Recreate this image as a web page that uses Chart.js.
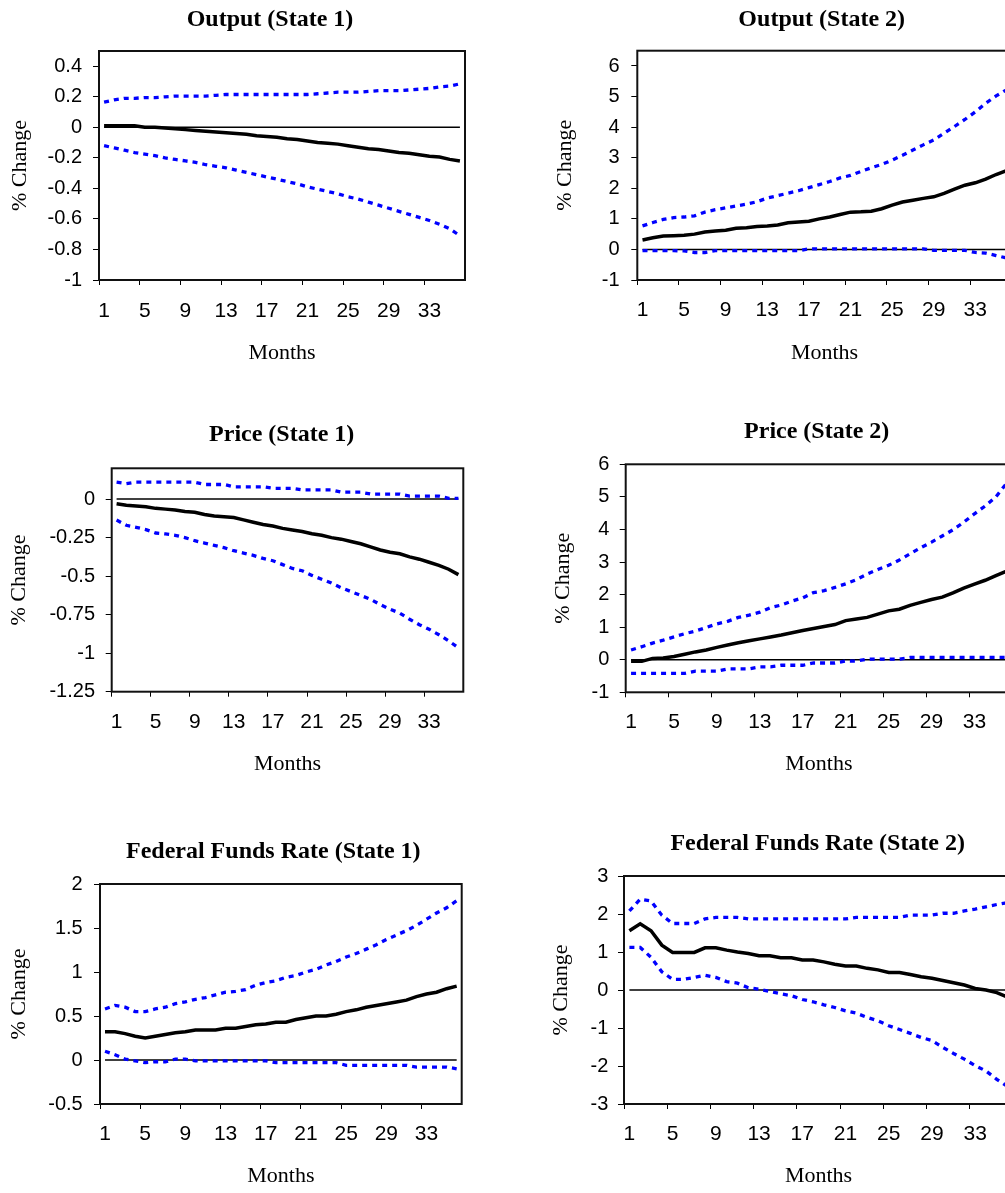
<!DOCTYPE html>
<html><head><meta charset="utf-8">
<script src="https://cdn.jsdelivr.net/npm/chart.js@4/dist/chart.umd.min.js"></script>
<style>
html,body{margin:0;padding:0;width:1005px;height:1193px;overflow:hidden;background:#fff;}
canvas{position:absolute;}
</style></head><body>
<canvas id="c1"></canvas><canvas id="c2"></canvas><canvas id="c3"></canvas>
<canvas id="c4"></canvas><canvas id="c5"></canvas><canvas id="c6"></canvas>
<script>
// ---------- DATA ----------
const months = ['1','2','3','4','5','6','7','8','9','10','11','12','13','14','15','16','17','18','19','20','21','22','23','24','25','26','27','28','29','30','31','32','33','34','35','36'];
const xTickLabels = ['1','5','9','13','17','21','25','29','33'];
const zeroLine = [0,0,0,0,0,0,0,0,0,0,0,0,0,0,0,0,0,0,0,0,0,0,0,0,0,0,0,0,0,0,0,0,0,0,0,0];

const outputS1Mid   = [0.01,0.01,0.01,0.01,0,0,-0.005,-0.01,-0.015,-0.02,-0.025,-0.03,-0.035,-0.04,-0.045,-0.055,-0.06,-0.065,-0.075,-0.08,-0.09,-0.1,-0.105,-0.11,-0.12,-0.13,-0.14,-0.145,-0.155,-0.165,-0.17,-0.18,-0.19,-0.195,-0.21,-0.22];
const outputS1Upper = [0.165,0.18,0.19,0.19,0.195,0.195,0.2,0.205,0.205,0.205,0.205,0.21,0.215,0.215,0.215,0.215,0.215,0.215,0.215,0.215,0.215,0.22,0.225,0.23,0.23,0.23,0.235,0.24,0.24,0.24,0.245,0.25,0.255,0.265,0.27,0.285];
const outputS1Lower = [-0.12,-0.135,-0.15,-0.165,-0.175,-0.185,-0.2,-0.21,-0.22,-0.23,-0.245,-0.255,-0.265,-0.28,-0.295,-0.31,-0.325,-0.34,-0.355,-0.37,-0.39,-0.405,-0.42,-0.435,-0.455,-0.47,-0.49,-0.51,-0.53,-0.55,-0.57,-0.59,-0.61,-0.635,-0.665,-0.71];
const outputS1YTicks = [-1,-0.8,-0.6,-0.4,-0.2,0,0.2,0.4];
const outputS1YRange = [-1,0.5];

const outputS2Mid   = [0.31,0.38,0.44,0.45,0.46,0.5,0.57,0.6,0.63,0.69,0.71,0.75,0.77,0.8,0.87,0.9,0.92,1.0,1.06,1.14,1.22,1.23,1.25,1.33,1.45,1.55,1.61,1.67,1.72,1.83,1.97,2.1,2.18,2.3,2.45,2.58];
const outputS2Upper = [0.77,0.88,0.98,1.04,1.06,1.1,1.22,1.3,1.36,1.42,1.48,1.56,1.68,1.76,1.84,1.92,2.02,2.12,2.22,2.34,2.42,2.55,2.67,2.78,2.92,3.08,3.25,3.42,3.58,3.8,4.02,4.25,4.5,4.78,5.02,5.22];
const outputS2Lower = [-0.04,-0.04,-0.04,-0.04,-0.05,-0.1,-0.1,-0.04,-0.04,-0.04,-0.04,-0.04,-0.04,-0.04,-0.04,-0.04,0.02,0.02,0.02,0.02,0.02,0.02,0.02,0.02,0.02,0.02,0.02,0.02,-0.03,-0.03,-0.03,-0.03,-0.1,-0.12,-0.2,-0.28];
const outputS2YTicks = [-1,0,1,2,3,4,5,6];
const outputS2YRange = [-1,6.5];

const priceS1Mid   = [-0.03,-0.04,-0.045,-0.05,-0.06,-0.065,-0.07,-0.08,-0.085,-0.1,-0.11,-0.115,-0.12,-0.135,-0.15,-0.165,-0.175,-0.19,-0.2,-0.21,-0.225,-0.235,-0.25,-0.26,-0.275,-0.29,-0.31,-0.33,-0.345,-0.355,-0.375,-0.39,-0.41,-0.43,-0.455,-0.49];
const priceS1Upper = [0.11,0.1,0.11,0.11,0.11,0.11,0.11,0.11,0.11,0.095,0.095,0.095,0.08,0.08,0.08,0.08,0.07,0.07,0.07,0.06,0.06,0.06,0.06,0.045,0.045,0.045,0.033,0.033,0.033,0.033,0.02,0.02,0.02,0.02,0.005,0.005];
const priceS1Lower = [-0.136,-0.17,-0.183,-0.198,-0.22,-0.226,-0.235,-0.25,-0.27,-0.285,-0.3,-0.315,-0.335,-0.35,-0.365,-0.385,-0.4,-0.425,-0.45,-0.465,-0.495,-0.52,-0.545,-0.575,-0.6,-0.625,-0.65,-0.685,-0.715,-0.74,-0.78,-0.815,-0.845,-0.88,-0.92,-0.965];
const priceS1YTicks = [-1.25,-1,-0.75,-0.5,-0.25,0];
const priceS1YRange = [-1.25,0.2];

const priceS2Mid   = [-0.05,-0.05,0.04,0.05,0.1,0.17,0.24,0.3,0.38,0.45,0.52,0.58,0.64,0.7,0.76,0.83,0.9,0.96,1.02,1.08,1.2,1.25,1.3,1.4,1.5,1.55,1.67,1.76,1.85,1.92,2.05,2.2,2.32,2.44,2.58,2.72];
const priceS2Upper = [0.3,0.4,0.51,0.6,0.7,0.8,0.88,0.99,1.1,1.18,1.3,1.37,1.46,1.6,1.68,1.8,1.9,2.06,2.12,2.22,2.33,2.46,2.63,2.77,2.9,3.06,3.25,3.44,3.61,3.8,3.99,4.22,4.48,4.72,5.0,5.42];
const priceS2Lower = [-0.42,-0.42,-0.42,-0.42,-0.42,-0.42,-0.35,-0.35,-0.35,-0.28,-0.28,-0.28,-0.22,-0.22,-0.17,-0.17,-0.17,-0.1,-0.1,-0.1,-0.04,-0.04,0.02,0.02,0.02,0.02,0.07,0.07,0.07,0.07,0.07,0.07,0.07,0.07,0.07,0.07];
const priceS2YTicks = [-1,0,1,2,3,4,5,6];
const priceS2YRange = [-1,6];

const ffrS1Mid   = [0.32,0.32,0.3,0.27,0.25,0.27,0.29,0.31,0.32,0.34,0.34,0.34,0.36,0.36,0.38,0.4,0.41,0.43,0.43,0.46,0.48,0.5,0.5,0.52,0.55,0.57,0.6,0.62,0.64,0.66,0.68,0.72,0.75,0.77,0.81,0.84];
const ffrS1Upper = [0.58,0.62,0.6,0.55,0.55,0.58,0.6,0.64,0.66,0.69,0.71,0.74,0.77,0.78,0.8,0.85,0.88,0.9,0.94,0.96,1.0,1.03,1.08,1.12,1.17,1.21,1.26,1.31,1.37,1.42,1.47,1.53,1.6,1.67,1.73,1.81];
const ffrS1Lower = [0.1,0.06,0.01,-0.01,-0.03,-0.02,-0.02,0.01,0.01,-0.01,-0.01,-0.01,-0.01,-0.01,-0.01,-0.01,-0.01,-0.03,-0.03,-0.03,-0.03,-0.03,-0.03,-0.03,-0.06,-0.06,-0.06,-0.06,-0.06,-0.06,-0.06,-0.08,-0.08,-0.08,-0.08,-0.1];
const ffrS1YTicks = [-0.5,0,0.5,1,1.5,2];
const ffrS1YRange = [-0.5,2];

const ffrS2Mid   = [1.56,1.74,1.56,1.18,0.99,0.99,0.99,1.11,1.11,1.05,1.0,0.96,0.9,0.9,0.85,0.85,0.79,0.79,0.74,0.68,0.63,0.63,0.57,0.53,0.46,0.46,0.41,0.35,0.31,0.25,0.19,0.13,0.04,0.0,-0.07,-0.19];
const ffrS2Upper = [2.08,2.39,2.34,1.97,1.75,1.75,1.75,1.87,1.91,1.91,1.91,1.87,1.87,1.87,1.87,1.87,1.87,1.87,1.87,1.87,1.87,1.91,1.91,1.91,1.91,1.91,1.97,1.97,1.97,2.02,2.02,2.08,2.13,2.19,2.25,2.3];
const ffrS2Lower = [1.12,1.12,0.86,0.48,0.28,0.28,0.33,0.39,0.33,0.22,0.18,0.06,0.02,-0.04,-0.1,-0.15,-0.25,-0.31,-0.39,-0.46,-0.55,-0.61,-0.72,-0.81,-0.94,-1.04,-1.14,-1.25,-1.33,-1.51,-1.67,-1.82,-1.99,-2.13,-2.35,-2.54];
const ffrS2YTicks = [-3,-2,-1,0,1,2,3];
const ffrS2YRange = [-3,3];

const panelTitles = ['Output (State 1)','Output (State 2)','Price (State 1)','Price (State 2)','Federal Funds Rate (State 1)','Federal Funds Rate (State 2)'];
const yAxisTitle = '% Change';
const xAxisTitle = 'Months';

// ---------- LAYOUT (page pixels) ----------
const layouts = [
  {L:0,   T:0,   W:500, H:380, pl:99,    pt:51,    pr:465,    pb:280,   tx:270,   ty:20,    ytx:20,    ylr:82,    xly:311.7,  my:353},
  {L:520, T:0,   W:520, H:380, pl:637.3, pt:50.7,  pr:1011.7, pb:280,   tx:821.7, ty:20,    ytx:565,   ylr:619.5, xly:310.7,  my:353},
  {L:0,   T:390, W:500, H:395, pl:111.7, pt:468.3, pr:463.3,  pb:691.7, tx:281.7, ty:434.5, ytx:19,    ylr:95,    xly:722.3,  my:764.3},
  {L:520, T:390, W:520, H:395, pl:625.7, pt:464.3, pr:1012,   pb:692.3, tx:816.7, ty:431.7, ytx:563.3, ylr:609.3, xly:722.3,  my:764.3},
  {L:0,   T:790, W:500, H:403, pl:100,   pt:884,   pr:461.7,  pb:1104,  tx:273.3, ty:851.7, ytx:19,    ylr:82.7,  xly:1134.3, my:1176},
  {L:520, T:790, W:520, H:403, pl:624,   pt:876,   pr:1013,   pb:1104,  tx:817.7, ty:843.3, ytx:561.7, ylr:608.3, xly:1134.3, my:1176}
];

const panels = [
  {mid:outputS1Mid, up:outputS1Upper, lo:outputS1Lower, yt:outputS1YTicks, yr:outputS1YRange},
  {mid:outputS2Mid, up:outputS2Upper, lo:outputS2Lower, yt:outputS2YTicks, yr:outputS2YRange},
  {mid:priceS1Mid,  up:priceS1Upper,  lo:priceS1Lower,  yt:priceS1YTicks,  yr:priceS1YRange},
  {mid:priceS2Mid,  up:priceS2Upper,  lo:priceS2Lower,  yt:priceS2YTicks,  yr:priceS2YRange},
  {mid:ffrS1Mid,    up:ffrS1Upper,    lo:ffrS1Lower,    yt:ffrS1YTicks,    yr:ffrS1YRange},
  {mid:ffrS2Mid,    up:ffrS2Upper,    lo:ffrS2Lower,    yt:ffrS2YTicks,    yr:ffrS2YRange}
];

// ---------- STYLE ----------
const SANS = "'Liberation Sans', Arial, sans-serif";
const SERIF = "'Liberation Serif', 'Times New Roman', serif";
const TITLE_SIZE = 24, AXT_SIZE = 22, XTICK_SIZE = 21, YTICK_SIZE = 20, LH = 1.2;
const Y_TICK_LEN = 6, X_TICK_LEN = 5;

const framePlugin = {
  id: 'frame',
  afterDraw(chart) {
    const a = chart.chartArea, ctx = chart.ctx;
    ctx.save(); ctx.strokeStyle = '#111'; ctx.lineWidth = 2;
    ctx.strokeRect(a.left, a.top, a.right - a.left, a.bottom - a.top);
    ctx.restore();
  }
};
const titlePos = {
  id: 'titlePos',
  afterLayout(chart, args, opts) {
    const tb = chart.titleBlock; if (!tb) return;
    const w = tb.right - tb.left;
    tb.left = opts.x - w / 2; tb.right = opts.x + w / 2;
  }
};

function fmtY(v) { const r = Math.round(v * 100) / 100; return String(r === 0 ? 0 : r); }

panels.forEach((p, i) => {
  const g = layouts[i];
  const cv = document.getElementById('c' + (i + 1));
  cv.width = g.W; cv.height = g.H;
  cv.style.left = g.L + 'px'; cv.style.top = g.T + 'px';
  cv.style.width = g.W + 'px'; cv.style.height = g.H + 'px';
  const pt = g.ty - g.T - TITLE_SIZE * LH / 2;
  const tb = g.pt - g.T - pt - TITLE_SIZE * LH;
  const yw = g.pl - g.L;
  const xh = g.T + g.H - g.pb;
  const band = {borderColor: '#0000FF', borderWidth: 3.3, borderDash: [5, 5], borderCapStyle: 'butt', pointRadius: 0, tension: 0, fill: false};
  new Chart(cv, {
    type: 'line',
    data: {
      labels: months,
      datasets: [
        {data: p.mid, borderColor: '#000', borderWidth: 3.5, pointRadius: 0, tension: 0, fill: false, order: 0},
        Object.assign({data: p.up, order: 1}, band),
        Object.assign({data: p.lo, order: 2}, band),
        {data: zeroLine, borderColor: '#000', borderWidth: 1.5, pointRadius: 0, tension: 0, fill: false, order: 3}
      ]
    },
    options: {
      responsive: false, animation: false, devicePixelRatio: 1,
      layout: {padding: {left: 0, top: pt, right: g.L + g.W - g.pr, bottom: 0}},
      plugins: {
        legend: {display: false}, tooltip: {enabled: false},
        title: {display: true, text: panelTitles[i], color: '#000',
          font: {family: SERIF, size: TITLE_SIZE, weight: 'bold', lineHeight: LH},
          padding: {top: 0, bottom: tb}},
        titlePos: {x: g.tx - g.L}
      },
      scales: {
        x: {
          type: 'category', offset: true,
          grid: {display: true, drawOnChartArea: false, drawTicks: true, offset: true, tickLength: X_TICK_LEN,
            tickColor: (c) => (c.index % 4 === 0 ? '#000' : 'rgba(0,0,0,0)'), tickWidth: 1},
          border: {display: false},
          ticks: {autoSkip: false, maxRotation: 0, minRotation: 0, color: '#000',
            padding: g.xly - g.pb - X_TICK_LEN - XTICK_SIZE * LH / 2,
            font: {family: SANS, size: XTICK_SIZE, lineHeight: LH},
            callback: (v, idx) => (xTickLabels.includes(months[idx]) ? months[idx] : '')},
          title: {display: true, text: xAxisTitle, color: '#000',
            font: {family: SERIF, size: AXT_SIZE, lineHeight: LH},
            padding: {top: 0, bottom: g.T + g.H - g.my - AXT_SIZE * LH / 2}},
          afterFit: (s) => { s.height = xh; }
        },
        y: {
          type: 'linear', min: p.yr[0], max: p.yr[1], bounds: 'data',
          grid: {display: true, drawOnChartArea: false, drawTicks: true, tickLength: Y_TICK_LEN, tickColor: '#000', tickWidth: 1},
          border: {display: false},
          afterBuildTicks: (s) => { s.ticks = p.yt.map(v => ({value: v})); },
          ticks: {color: '#000', padding: g.pl - Y_TICK_LEN - g.ylr,
            font: {family: SANS, size: YTICK_SIZE, lineHeight: LH},
            callback: (v) => fmtY(v)},
          title: {display: true, text: yAxisTitle, color: '#000',
            font: {family: SERIF, size: AXT_SIZE, lineHeight: LH},
            padding: {top: g.ytx - g.L - AXT_SIZE * LH / 2, bottom: 0}},
          afterFit: (s) => { s.width = yw; }
        }
      }
    },
    plugins: [framePlugin, titlePos]
  });
});
</script>
</body></html>
